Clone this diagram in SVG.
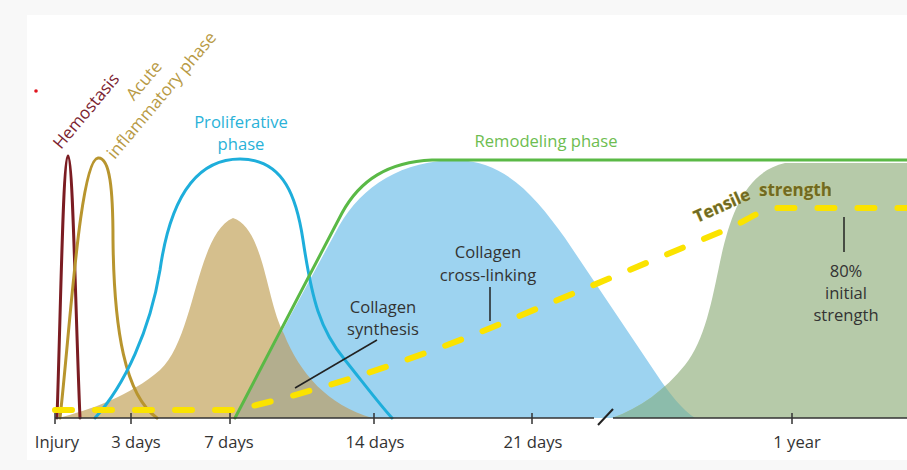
<svg xmlns="http://www.w3.org/2000/svg" width="907" height="470" viewBox="0 0 907 470">
<style>
.lbl{font-family:"Open Sans","Liberation Sans",sans-serif;font-size:16.6px;fill:#333;}
.mid{text-anchor:middle;}
.curve{fill:none;stroke-width:3;stroke-linejoin:round;stroke-linecap:round;}
.axis{stroke:#333;stroke-width:1.5;fill:none;}
.lead{stroke:#222;stroke-width:1.5;fill:none;}
.ts{font-family:"Open Sans","Liberation Sans",sans-serif;font-size:17px;font-weight:bold;fill:#706a22;stroke:#d9d27a;stroke-width:0.6;paint-order:stroke;}
</style>
<defs>
<path id="tanShape" d="M58,418 C90,410 130,396 160,370 C195,338 196,234 233,218 C264,228 266,300 284,334 C300,374 328,405 372,418 Z"/>
<path id="blueShape" d="M235,418 L339,226 C362,186 402,160 458,160 C506,162 535,196 565,238 L655,372 C670,395 683,410 695,418 Z"/>
<path id="greenShape" d="M612,418 C640,408 665,390 685,365 C705,340 712,300 720,262 C730,215 745,172 785,163 L907,163 L907,418 Z"/>
<clipPath id="clipTan"><use href="#tanShape"/></clipPath>
<clipPath id="clipGreen"><use href="#greenShape"/></clipPath>
</defs>
<rect x="0" y="0" width="907" height="470" fill="#f8f8f8"/>
<rect x="27" y="15" width="880" height="445" fill="#ffffff"/>
<circle cx="36" cy="91" r="1.8" fill="#e0141e"/>

<g id="fills">
<use href="#tanShape" fill="#d5bf8d"/>
<use href="#blueShape" fill="#9dd3f0"/>
<use href="#greenShape" fill="#b6caa9"/>
<use href="#blueShape" fill="#b3ae8e" clip-path="url(#clipTan)"/>
<use href="#blueShape" fill="#8cbcab" clip-path="url(#clipGreen)"/>
</g>

<g id="hemostasis">
<path class="curve" stroke="#7b1c22" d="M57,418 C61,300 63,157 68,156 C73,157 75,300 80,418"/>
<text class="lbl" style="fill:#7b2430;font-size:17px" transform="translate(61,150) rotate(-50)">Hemostasis</text>
</g>

<g id="inflammatory">
<path class="curve" stroke="#b8952e" d="M60,418 C70,330 80,160 98,158 C110,157 113,190 113,240 C114,330 125,395 157,418"/>
<text class="lbl mid" style="fill:#b89a45;font-size:17px" transform="translate(166,99) rotate(-50)"><tspan x="0" y="-23">Acute</tspan><tspan x="0" y="0">inflammatory phase</tspan></text>
</g>

<g id="proliferative">
<path class="curve" stroke="#1eaedb" d="M95,418 C125,385 150,330 160,270 C170,200 195,159 240,159 C285,159 297,200 303,240 C312,300 320,330 345,360 C365,385 380,405 392,418"/>
<text class="lbl mid" style="fill:#2ab2d8"><tspan x="241" y="128">Proliferative</tspan><tspan x="241" y="150">phase</tspan></text>
</g>

<g id="remodeling">
<path class="curve" stroke="#5ab946" d="M235,418 L342,213 C360,180 388,162 432,160 L907,160"/>
<text class="lbl mid" x="546" y="147" style="fill:#6dbd50">Remodeling phase</text>
</g>

<g id="tensile">
<path d="M55,410 H235 C300,396 400,365 493,327 L730,228 C750,219 760,209 778,208 H907" fill="none" stroke="#fbe300" stroke-width="6" stroke-linecap="round" stroke-dasharray="17 23"/>
<text class="ts" transform="translate(697,223) rotate(-24)">Tensile</text>
<text class="ts" x="759" y="196">strength</text>
</g>

<g id="axis">
<path class="axis" d="M55,418 H594 M613,418 H907"/>
<path class="axis" d="M55,413 V424 M131,413 V424 M230,413 V424 M374,413 V424 M532,413 V424 M792,413 V424"/>
<path d="M598,425 L613,409" stroke="#222" stroke-width="2"/>
<text class="lbl mid" x="57" y="448">Injury</text>
<text class="lbl mid" x="136" y="448">3 days</text>
<text class="lbl mid" x="229" y="448">7 days</text>
<text class="lbl mid" x="375" y="448">14 days</text>
<text class="lbl mid" x="533" y="448">21 days</text>
<text class="lbl mid" x="797" y="448">1 year</text>
</g>

<g id="synthesis">
<text class="lbl mid"><tspan x="383" y="313">Collagen</tspan><tspan x="383" y="335">synthesis</tspan></text>
</g>
<g id="crosslinking">
<text class="lbl mid"><tspan x="488" y="258">Collagen</tspan><tspan x="488" y="281">cross-linking</tspan></text>
</g>
<g id="initial">
<text class="lbl mid"><tspan x="846" y="277">80%</tspan><tspan x="846" y="299">initial</tspan><tspan x="846" y="321">strength</tspan></text>
</g>

<g id="connectors">
<path class="lead" d="M295,388 L377,340"/>
<path class="lead" d="M490,287 L490,321"/>
<path class="lead" d="M844,217 L844,252"/>
</g>
</svg>
